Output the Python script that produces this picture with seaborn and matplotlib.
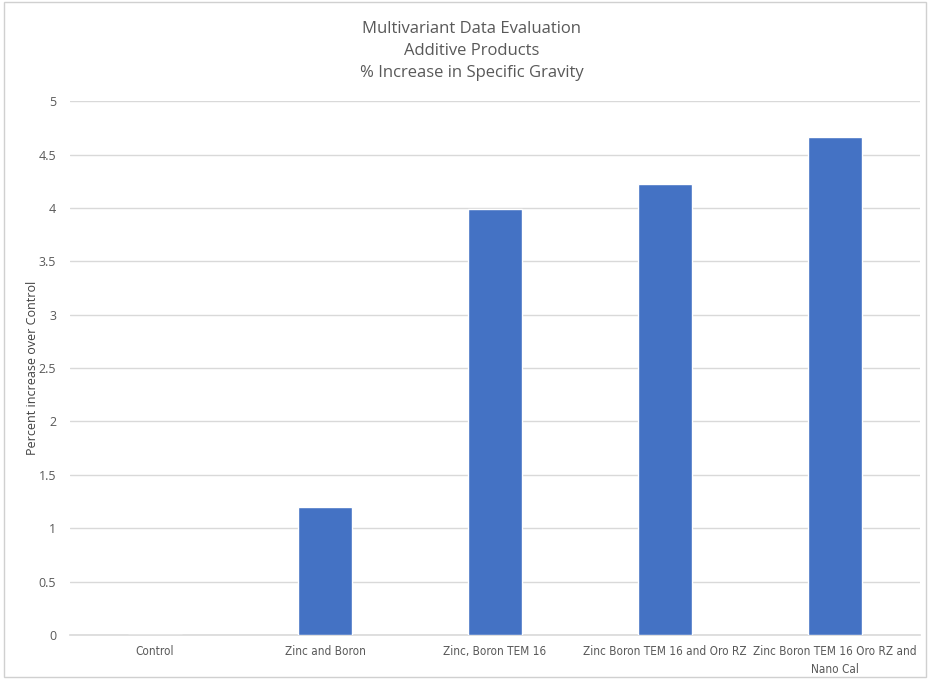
import matplotlib.pyplot as plt
import matplotlib.patches as mpatches
import pandas as pd
import seaborn as sns

# Chart data
categories = ['Control', 'Zinc and Boron', 'Zinc, Boron TEM 16',
              'Zinc Boron TEM 16 and Oro RZ', 'Zinc Boron TEM 16 Oro RZ and\nNano Cal']
values = [0.0, 1.2, 3.99, 4.22, 4.66]
y_ticks = [0, 0.5, 1, 1.5, 2, 2.5, 3, 3.5, 4, 4.5, 5]
y_tick_labels = ['0', '0.5', '1', '1.5', '2', '2.5', '3', '3.5', '4', '4.5', '5']

df = pd.DataFrame({'product': categories, 'increase': values})

sns.set_theme(style='white')
plt.rcParams['font.family'] = ['DejaVu Sans']

fig = plt.figure(figsize=(9.29, 6.79), dpi=100)
ax = fig.add_axes([0.0753, 0.0648, 0.915, 0.7862])

sns.barplot(data=df, x='product', y='increase', color='#4472c4', saturation=1,
            width=0.32, ax=ax, zorder=3)

ax.set_ylim(0, 5)
ax.set_yticks(y_ticks)
ax.set_yticklabels(y_tick_labels)
ax.grid(True, axis='y', color='#d9d9d9', linewidth=1, zorder=0)
ax.set_axisbelow(True)
for side in ['top', 'right', 'left']:
    ax.spines[side].set_visible(False)
ax.spines['bottom'].set_color('#d9d9d9')
ax.spines['bottom'].set_linewidth(1.2)
ax.tick_params(axis='both', length=0, colors='#595959')
ax.tick_params(axis='x', pad=7)
ax.tick_params(axis='y', pad=10)

for lbl in ax.get_xticklabels():
    lbl.set_fontsize(8.5)
    lbl.set_fontstretch('condensed')
    lbl.set_linespacing(1.5)
for lbl in ax.get_yticklabels():
    lbl.set_family(['Open Sans', 'DejaVu Sans'])
    lbl.set_fontsize(9)

ax.set_xlabel('')
ax.set_ylabel('Percent increase over Control', fontsize=9, color='#404040',
              family=['Open Sans', 'DejaVu Sans'])
ax.yaxis.set_label_coords(-0.037, 0.5)

fig.text(0.508, 0.969, 'Multivariant Data Evaluation\nAdditive Products\n% Increase in Specific Gravity',
         ha='center', va='top', fontsize=12, color='#595959', linespacing=1.48,
         family=['Open Sans', 'DejaVu Sans'])

# thin chart-area border
fig.patches.append(mpatches.Rectangle((0.004, 0.003), 0.993, 0.994, transform=fig.transFigure,
                                      fill=False, edgecolor='#d0d0d0', linewidth=1))

fig.savefig('out.png', dpi=100)
